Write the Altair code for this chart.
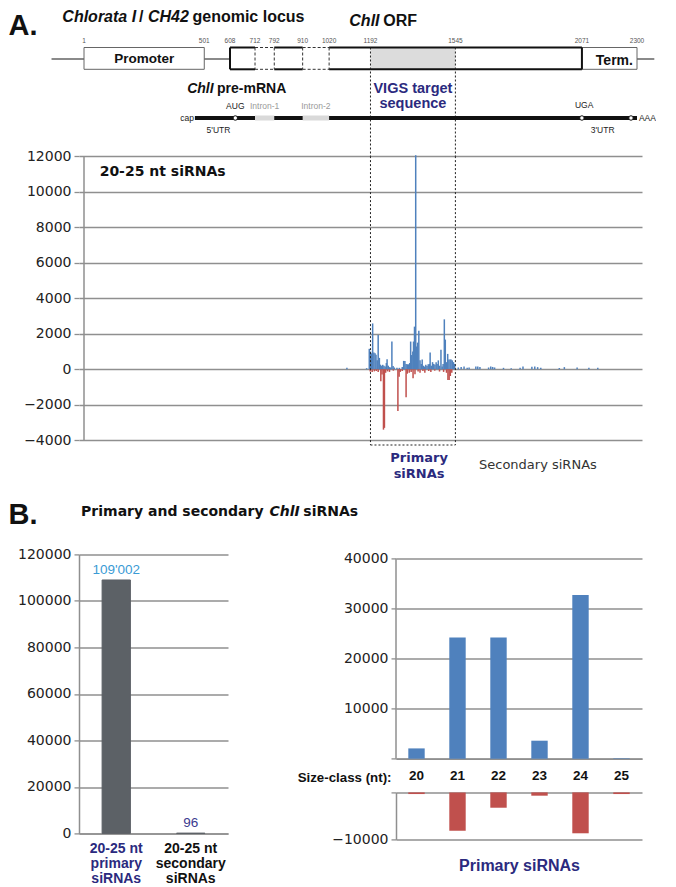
import altair as alt
import pandas as pd

# ---------------- values ----------------
# gene model (nt positions)
POS_LABELS = [1, 501, 608, 712, 792, 910, 1020, 1192, 1545, 2071, 2300]
PROMOTER = [1, 501]
ORF = [608, 2071]
TERMINATOR = [2071, 2300]
EXONS = [[608, 712], [792, 910], [1020, 2071]]
INTRONS = [[712, 792], [910, 1020]]
VIGS = [1192, 1545]
FLANKS = [-134, 2372]
MRNA = [462, 2300]
MRNA_SITES = [630, 2071, 2275]          # AUG, UGA, poly-A site
VIGS_BOX_BOTTOM = -4265

# 20-25 nt siRNAs along the locus (sense = blue, antisense = red)
BLUE_POS = [1094, 1176,
            1187, 1192, 1197, 1201, 1206, 1211, 1215, 1220, 1224, 1229,
            1233, 1238, 1243, 1248, 1253, 1258, 1261, 1266, 1271, 1276,
            1281, 1286, 1291, 1302, 1312, 1324, 1330, 1335, 1340, 1345,
            1350, 1355, 1359, 1363, 1368, 1371, 1375, 1380, 1384, 1388,
            1393, 1398, 1403, 1407, 1412, 1417, 1422, 1427, 1432, 1437,
            1440, 1445, 1450, 1455, 1460, 1465, 1469, 1474, 1479, 1485,
            1490, 1494, 1499, 1503, 1508, 1513, 1518, 1523, 1527, 1532,
            1537, 1542,
            1557, 1569, 1581, 1594, 1602, 1630, 1638, 1647, 1683, 1692,
            1700, 1708, 1745, 1777, 1814, 1826, 1863, 1875, 1887, 1900,
            1977, 1998, 2051, 2100, 2137]
BLUE_VAL = [80, 60,
            1150, 1000, 900, 2580, 940, 900, 810, 500, 1930, 640,
            260, 200, 250, 200, 150, 350, 560, 200, 120, 100,
            1560, 180, 100, 80, 80, 120, 470, 470, 300, 280,
            280, 350, 1560, 800, 1000, 1560, 2400, 12050, 1280, 1500,
            2170, 500, 300, 545, 200, 150, 250, 180, 280, 300,
            940, 200, 400, 300, 250, 400, 300, 500, 200, 1100,
            150, 300, 2810, 1670, 400, 865, 545, 545, 545, 500,
            400, 300,
            100, 120, 150, 80, 100, 150, 150, 120, 100, 150,
            130, 100, 80, 60, 90, 150, 140, 150, 120, 80,
            70, 120, 100, 90, 80]
RED_POS = [1191, 1199, 1208, 1216, 1224, 1235, 1240, 1246, 1250, 1255,
           1263, 1271, 1287, 1306, 1311, 1316, 1324, 1340, 1345, 1353,
           1361, 1369, 1377, 1390, 1398, 1410, 1418, 1434, 1443, 1459,
           1479, 1496, 1508, 1514, 1519, 1524, 1530]
RED_VAL = [-120, -150, -120, -100, -150, -680, -300, -3400, -3300, -200,
           -120, -150, -80, -2350, -420, -150, -100, -1570, -250, -200,
           -150, -500, -280, -120, -200, -100, -190, -100, -150, -80,
           -130, -150, -200, -600, -600, -380, -200]

# panel B
B_CATS = ["20-25 nt|primary|siRNAs", "20-25 nt|secondary|siRNAs"]
B_COUNTS = [109002, 96]
SIZE_CLASSES = ["20", "21", "22", "23", "24", "25"]
SENSE = [2060, 24260, 24260, 3600, 32730, 100]
ANTISENSE = [-350, -8150, -3260, -700, -8700, -350]

# ---------------- styling ----------------
BLUE = "#4f81bd"
RED = "#c0504d"
NAVY = "#2b2a7e"
GRID = "#8f8f8f"
ARIAL = "Liberation Sans"
DEJAVU = "DejaVu Sans"

# diagram rows (vertical layout levels of the gene drawing)
LV = dict(title=20.5, orf=25, A=34, num=40, top=46.5, bot=68.3, gene=58,
          pre=91.5, vigs1=92, vigs2=106.5, codon=108, mrna=117, utr=131.5,
          end=155)

XS = alt.Scale(domain=[1, 2300], nice=False, zero=False)
YD = alt.Scale(domain=[8, 439.3], reverse=True, nice=False, zero=False)
YS = alt.Scale(domain=[-4000, 20282], nice=False)
AX_S = alt.Axis(values=list(range(-4000, 12001, 2000)), format="d",
                grid=True, title=None, domain=False, orient="left")

def xd(f):
    return alt.X(f + ":Q", scale=XS, axis=None, title=None)

def yd(f):
    return alt.Y(f + ":Q", scale=YD, axis=None, title=None)

def ys(f):
    return alt.Y(f + ":Q", scale=YS, axis=AX_S, title=None)

def dtext(items, **kw):
    df = pd.DataFrame(items, columns=["x", "y", "t"])
    base = dict(font=ARIAL, align="left", baseline="alphabetic", color="#111")
    base.update(kw)
    return alt.Chart(df).mark_text(**base).encode(x=xd("x"), y=yd("y"), text="t:N")

def stext(items, **kw):
    df = pd.DataFrame(items, columns=["x", "y", "t"])
    base = dict(font=DEJAVU, align="left", baseline="alphabetic", color="#111")
    base.update(kw)
    return alt.Chart(df).mark_text(**base).encode(x=xd("x"), y=ys("y"), text="t:N")

# ================= gene diagram =================
d = []
d.append(alt.Chart(pd.DataFrame({"x": [FLANKS[0]], "x2": [FLANKS[1]], "y": [LV["gene"]]}))
         .mark_rule(color="#8a8a8a", strokeWidth=2)
         .encode(x=xd("x"), x2="x2:Q", y=yd("y")))
boxes = pd.DataFrame({"x": [PROMOTER[0], TERMINATOR[0]], "x2": [PROMOTER[1], TERMINATOR[1]],
                      "y": [LV["top"]] * 2, "y2": [LV["bot"]] * 2})
d.append(alt.Chart(boxes).mark_rect(fill="white", stroke="#666", strokeWidth=1)
         .encode(x=xd("x"), x2="x2:Q", y=yd("y"), y2="y2:Q"))
d.append(alt.Chart(pd.DataFrame({"x": [ORF[0]], "x2": [ORF[1]], "y": [LV["top"]], "y2": [LV["bot"]]}))
         .mark_rect(fill="white").encode(x=xd("x"), x2="x2:Q", y=yd("y"), y2="y2:Q"))
d.append(alt.Chart(pd.DataFrame({"x": [VIGS[0]], "x2": [VIGS[1]], "y": [LV["top"]], "y2": [LV["bot"]]}))
         .mark_rect(fill="#dcdcdc").encode(x=xd("x"), x2="x2:Q", y=yd("y"), y2="y2:Q"))
ex_rows = [(a, b, yy) for a, b in EXONS for yy in (LV["top"], LV["bot"])]
d.append(alt.Chart(pd.DataFrame(ex_rows, columns=["x", "x2", "y"]))
         .mark_rule(color="#111", strokeWidth=2)
         .encode(x=xd("x"), x2="x2:Q", y=yd("y")))
in_rows = [(a, b, yy) for a, b in INTRONS for yy in (LV["top"], LV["bot"])]
d.append(alt.Chart(pd.DataFrame(in_rows, columns=["x", "x2", "y"]))
         .mark_rule(color="#333", strokeWidth=1, strokeDash=[3, 2])
         .encode(x=xd("x"), x2="x2:Q", y=yd("y")))
d.append(alt.Chart(pd.DataFrame({"x": ORF, "y": [LV["top"]] * 2, "y2": [LV["bot"]] * 2}))
         .mark_rule(color="#111", strokeWidth=2)
         .encode(x=xd("x"), y=yd("y"), y2="y2:Q"))
edges = [e for pair in INTRONS for e in pair]
d.append(alt.Chart(pd.DataFrame({"x": edges, "y": [LV["top"]] * 4, "y2": [LV["bot"]] * 4}))
         .mark_rule(color="#333", strokeWidth=1, strokeDash=[3, 2])
         .encode(x=xd("x"), y=yd("y"), y2="y2:Q"))
d.append(alt.Chart(pd.DataFrame({"x": VIGS, "y": [LV["top"]] * 2, "y2": [LV["end"]] * 2}))
         .mark_rule(color="#222", strokeWidth=1, strokeDash=[2, 2])
         .encode(x=xd("x"), y=yd("y"), y2="y2:Q"))
d.append(dtext([(p, LV["num"], str(p)) for p in POS_LABELS],
               fontSize=6.5, align="center", baseline="middle", color="#555"))
# pre-mRNA
d.append(alt.Chart(pd.DataFrame({"x": [MRNA[0]], "x2": [MRNA[1]], "y": [LV["mrna"]]}))
         .mark_rule(color="#111", strokeWidth=4)
         .encode(x=xd("x"), x2="x2:Q", y=yd("y")))
d.append(alt.Chart(pd.DataFrame(INTRONS, columns=["x", "x2"]).assign(y=LV["mrna"]))
         .mark_rule(color="#d9d9d9", strokeWidth=5)
         .encode(x=xd("x"), x2="x2:Q", y=yd("y")))
d.append(alt.Chart(pd.DataFrame({"x": MRNA_SITES, "y": [LV["mrna"]] * 3}))
         .mark_point(shape="circle", filled=True, fill="white", stroke="#111",
                     strokeWidth=1, size=20, opacity=1)
         .encode(x=xd("x"), y=yd("y")))
# texts
d.append(dtext([(-313, LV["A"], "A.")], fontSize=29, fontWeight="bold"))
d.append(dtext([(-89, LV["title"], "Chlorata I"), (267, LV["title"], "CH42"),
                (1104, LV["orf"], "ChlI")], fontSize=16, fontWeight="bold", fontStyle="italic"))
d.append(dtext([(230, LV["title"], "/"), (452, LV["title"], "genomic locus"),
                (1245, LV["orf"], "ORF")], fontSize=16, fontWeight="bold"))
d.append(dtext([(430, LV["pre"], "ChlI")], fontSize=14, fontWeight="bold", fontStyle="italic"))
d.append(dtext([(554, LV["pre"], "pre-mRNA")], fontSize=14, fontWeight="bold"))
d.append(dtext([(251, 62, "Promoter")], fontSize=13.5, fontWeight="bold", align="center"))
d.append(dtext([(2206, 63.5, "Term.")], fontSize=14, fontWeight="bold", align="center"))
d.append(dtext([(1368.5, LV["vigs1"], "VIGS target"), (1368.5, LV["vigs2"], "sequence")],
               fontSize=14.5, fontWeight="bold", align="center", color=NAVY))
d.append(dtext([(630, LV["codon"], "AUG"), (2080, LV["codon"] - 1, "UGA"),
                (560, LV["utr"], "5'UTR"), (2157, LV["utr"], "3'UTR")],
               fontSize=8.5, align="center", color="#222"))
d.append(dtext([(752, LV["codon"], "Intron-1"), (965, LV["codon"], "Intron-2")],
               fontSize=8.5, align="center", color="#9a9a9a"))
d.append(dtext([(458, LV["mrna"], "cap")], fontSize=8.5, align="right", baseline="middle", color="#222"))
d.append(dtext([(2308, LV["mrna"], "AAA")], fontSize=8.5, align="left", baseline="middle", color="#222"))

# ================= siRNA profile =================
s = []
blue_df = pd.DataFrame({"x": BLUE_POS, "v": BLUE_VAL})
red_df = pd.DataFrame({"x": RED_POS, "v": RED_VAL})
s.append(alt.Chart(blue_df).mark_bar(color=BLUE, size=1.5, orient="vertical")
         .encode(x=xd("x"), y=ys("v")))
s.append(alt.Chart(red_df).mark_bar(color=RED, size=1.5, orient="vertical")
         .encode(x=xd("x"), y=ys("v")))
s.append(alt.Chart(pd.DataFrame({"x": [1], "y": [-4000], "y2": [12000]}))
         .mark_rule(color=GRID, strokeWidth=1.5)
         .encode(x=xd("x"), y=ys("y"), y2="y2:Q"))
s.append(alt.Chart(pd.DataFrame({"x": VIGS, "y": [12000] * 2, "y2": [VIGS_BOX_BOTTOM] * 2}))
         .mark_rule(color="#222", strokeWidth=1, strokeDash=[2, 2])
         .encode(x=xd("x"), y=ys("y"), y2="y2:Q"))
s.append(alt.Chart(pd.DataFrame({"x": [VIGS[0]], "x2": [VIGS[1]], "y": [VIGS_BOX_BOTTOM]}))
         .mark_rule(color="#222", strokeWidth=1, strokeDash=[2, 2])
         .encode(x=xd("x"), x2="x2:Q", y=ys("y")))
s.append(stext([(66, 10873, "20-25 nt siRNAs")], fontSize=14, fontWeight="bold"))
s.append(stext([(1394, -5239, "Primary"), (1394, -6113, "siRNAs")],
               fontSize=13, fontWeight="bold", align="center", color=NAVY))
s.append(stext([(1888, -5634, "Secondary siRNAs")], fontSize=13, align="center", color="#333"))
s.append(stext([(-313, -8732, "B.")], font=ARIAL, fontSize=29, fontWeight="bold"))
s.append(stext([(-11, -8282, "Primary and secondary"), (913, -8282, "siRNAs")],
               fontSize=14, fontWeight="bold"))
s.append(stext([(772, -8282, "ChlI")], fontSize=14, fontWeight="bold", fontStyle="italic"))

A = (alt.layer(alt.layer(*d), alt.layer(*s))
     .resolve_scale(y="independent")
     .properties(width=563, height=431.3))

# ================= panel B left =================
bl_df = pd.DataFrame({"cat": B_CATS, "n": B_COUNTS,
                      "lab": [f"{v:,}".replace(",", "'") for v in B_COUNTS]})
xb = alt.X("cat:N", sort=B_CATS, scale=alt.Scale(paddingInner=0.62, paddingOuter=0.31),
           axis=alt.Axis(title=None, labelAngle=0, ticks=False,
                         labelExpr="split(datum.label, '|')",
                         labelFont=ARIAL, labelFontSize=14, labelFontWeight="bold",
                         labelLineHeight=15, labelPadding=8,
                         labelColor={"expr": "datum.value == '%s' ? '%s' : '#111'" % (B_CATS[0], NAVY)}))
yb = alt.Y("n:Q", scale=alt.Scale(domain=[0, 120000], nice=False),
           axis=alt.Axis(values=list(range(0, 120001, 20000)), format="d", grid=True, title=None))
bl_bars = alt.Chart(bl_df).mark_bar(color="#5c6166", stroke="#5c6166", strokeWidth=1).encode(x=xb, y=yb)
bl_text = alt.Chart(bl_df).mark_text(dy=-10, font=ARIAL, fontSize=13.5).encode(
    x=xb, y=yb, text="lab:N",
    color=alt.Color("cat:N", scale=alt.Scale(domain=B_CATS, range=["#3a9bd5", "#3c3a8f"]), legend=None))
BL = alt.layer(bl_bars, bl_text).properties(width=149, height=279)

# ================= panel B right =================
br_df = pd.DataFrame({"size": SIZE_CLASSES, "sense": SENSE, "anti": ANTISENSE})
band = alt.Scale(paddingInner=0.6, paddingOuter=0.3)
xr_top = alt.X("size:N", sort=SIZE_CLASSES, scale=band,
               axis=alt.Axis(title="Size-class (nt):", labelAngle=0, ticks=False,
                             labelFont=ARIAL, labelFontWeight="bold", labelFontSize=13.5,
                             labelColor="#111", labelPadding=10,
                             titleX=-5, titleY=19, titleAlign="right", titleBaseline="middle",
                             titleAngle=0, titleFont=ARIAL, titleFontWeight="bold",
                             titleFontSize=13.3, titleColor="#111"))
yr_top = alt.Y("sense:Q", scale=alt.Scale(domain=[0, 40860], nice=False),
               axis=alt.Axis(values=[0, 10000, 20000, 30000, 40000], format="d", grid=True,
                             title=None, domain=False,
                             labelExpr="datum.value == 0 ? '' : datum.label"))
brt_bars = alt.Chart(br_df).mark_bar(color=BLUE).encode(x=xr_top, y=yr_top)
brt_axis = (alt.Chart(pd.DataFrame({"lo": [0], "hi": [40000]}))
            .mark_rule(color=GRID, strokeWidth=1.5)
            .encode(x=alt.value(0), y=alt.Y("lo:Q", scale=alt.Scale(domain=[0, 40860], nice=False)),
                    y2="hi:Q"))
BRT = alt.layer(brt_bars, brt_axis).properties(width=246, height=204.3)

xr_bot = alt.X("size:N", sort=SIZE_CLASSES, scale=band,
               axis=alt.Axis(title="Primary siRNAs", labels=False, ticks=False, domain=False,
                             titleFont=ARIAL, titleFontSize=16, titleFontWeight="bold",
                             titleColor=NAVY, titlePadding=18))
yr_bot = alt.Y("anti:Q", scale=alt.Scale(domain=[-10000, 0], nice=False),
               axis=alt.Axis(values=[-10000, 0], format="d", grid=True, title=None,
                             labelExpr="datum.value == 0 ? '' : datum.label"))
BRB = alt.Chart(br_df).mark_bar(color=RED).encode(x=xr_bot, y=yr_bot).properties(width=246, height=47)

BR = alt.vconcat(BRT, BRB, spacing=33, bounds="flush").resolve_scale(x="independent", y="independent")
B = alt.hconcat(BL, BR, spacing=168, bounds="flush").resolve_scale(x="independent", y="independent")

chart = (alt.vconcat(A, B, spacing=113.4, bounds="flush")
         .resolve_scale(x="independent", y="independent")
         .properties(padding=0, background="white")
         .configure_view(stroke=None)
         .configure_axis(labelFont=DEJAVU, labelFontSize=14, labelColor="#222",
                         gridColor=GRID, gridWidth=1.5, domainColor=GRID, domainWidth=1.5,
                         tickColor=GRID, tickSize=5, tickWidth=1.3, labelPadding=3))

chart.save("out.html", embed_options={"renderer": "svg", "actions": False})
